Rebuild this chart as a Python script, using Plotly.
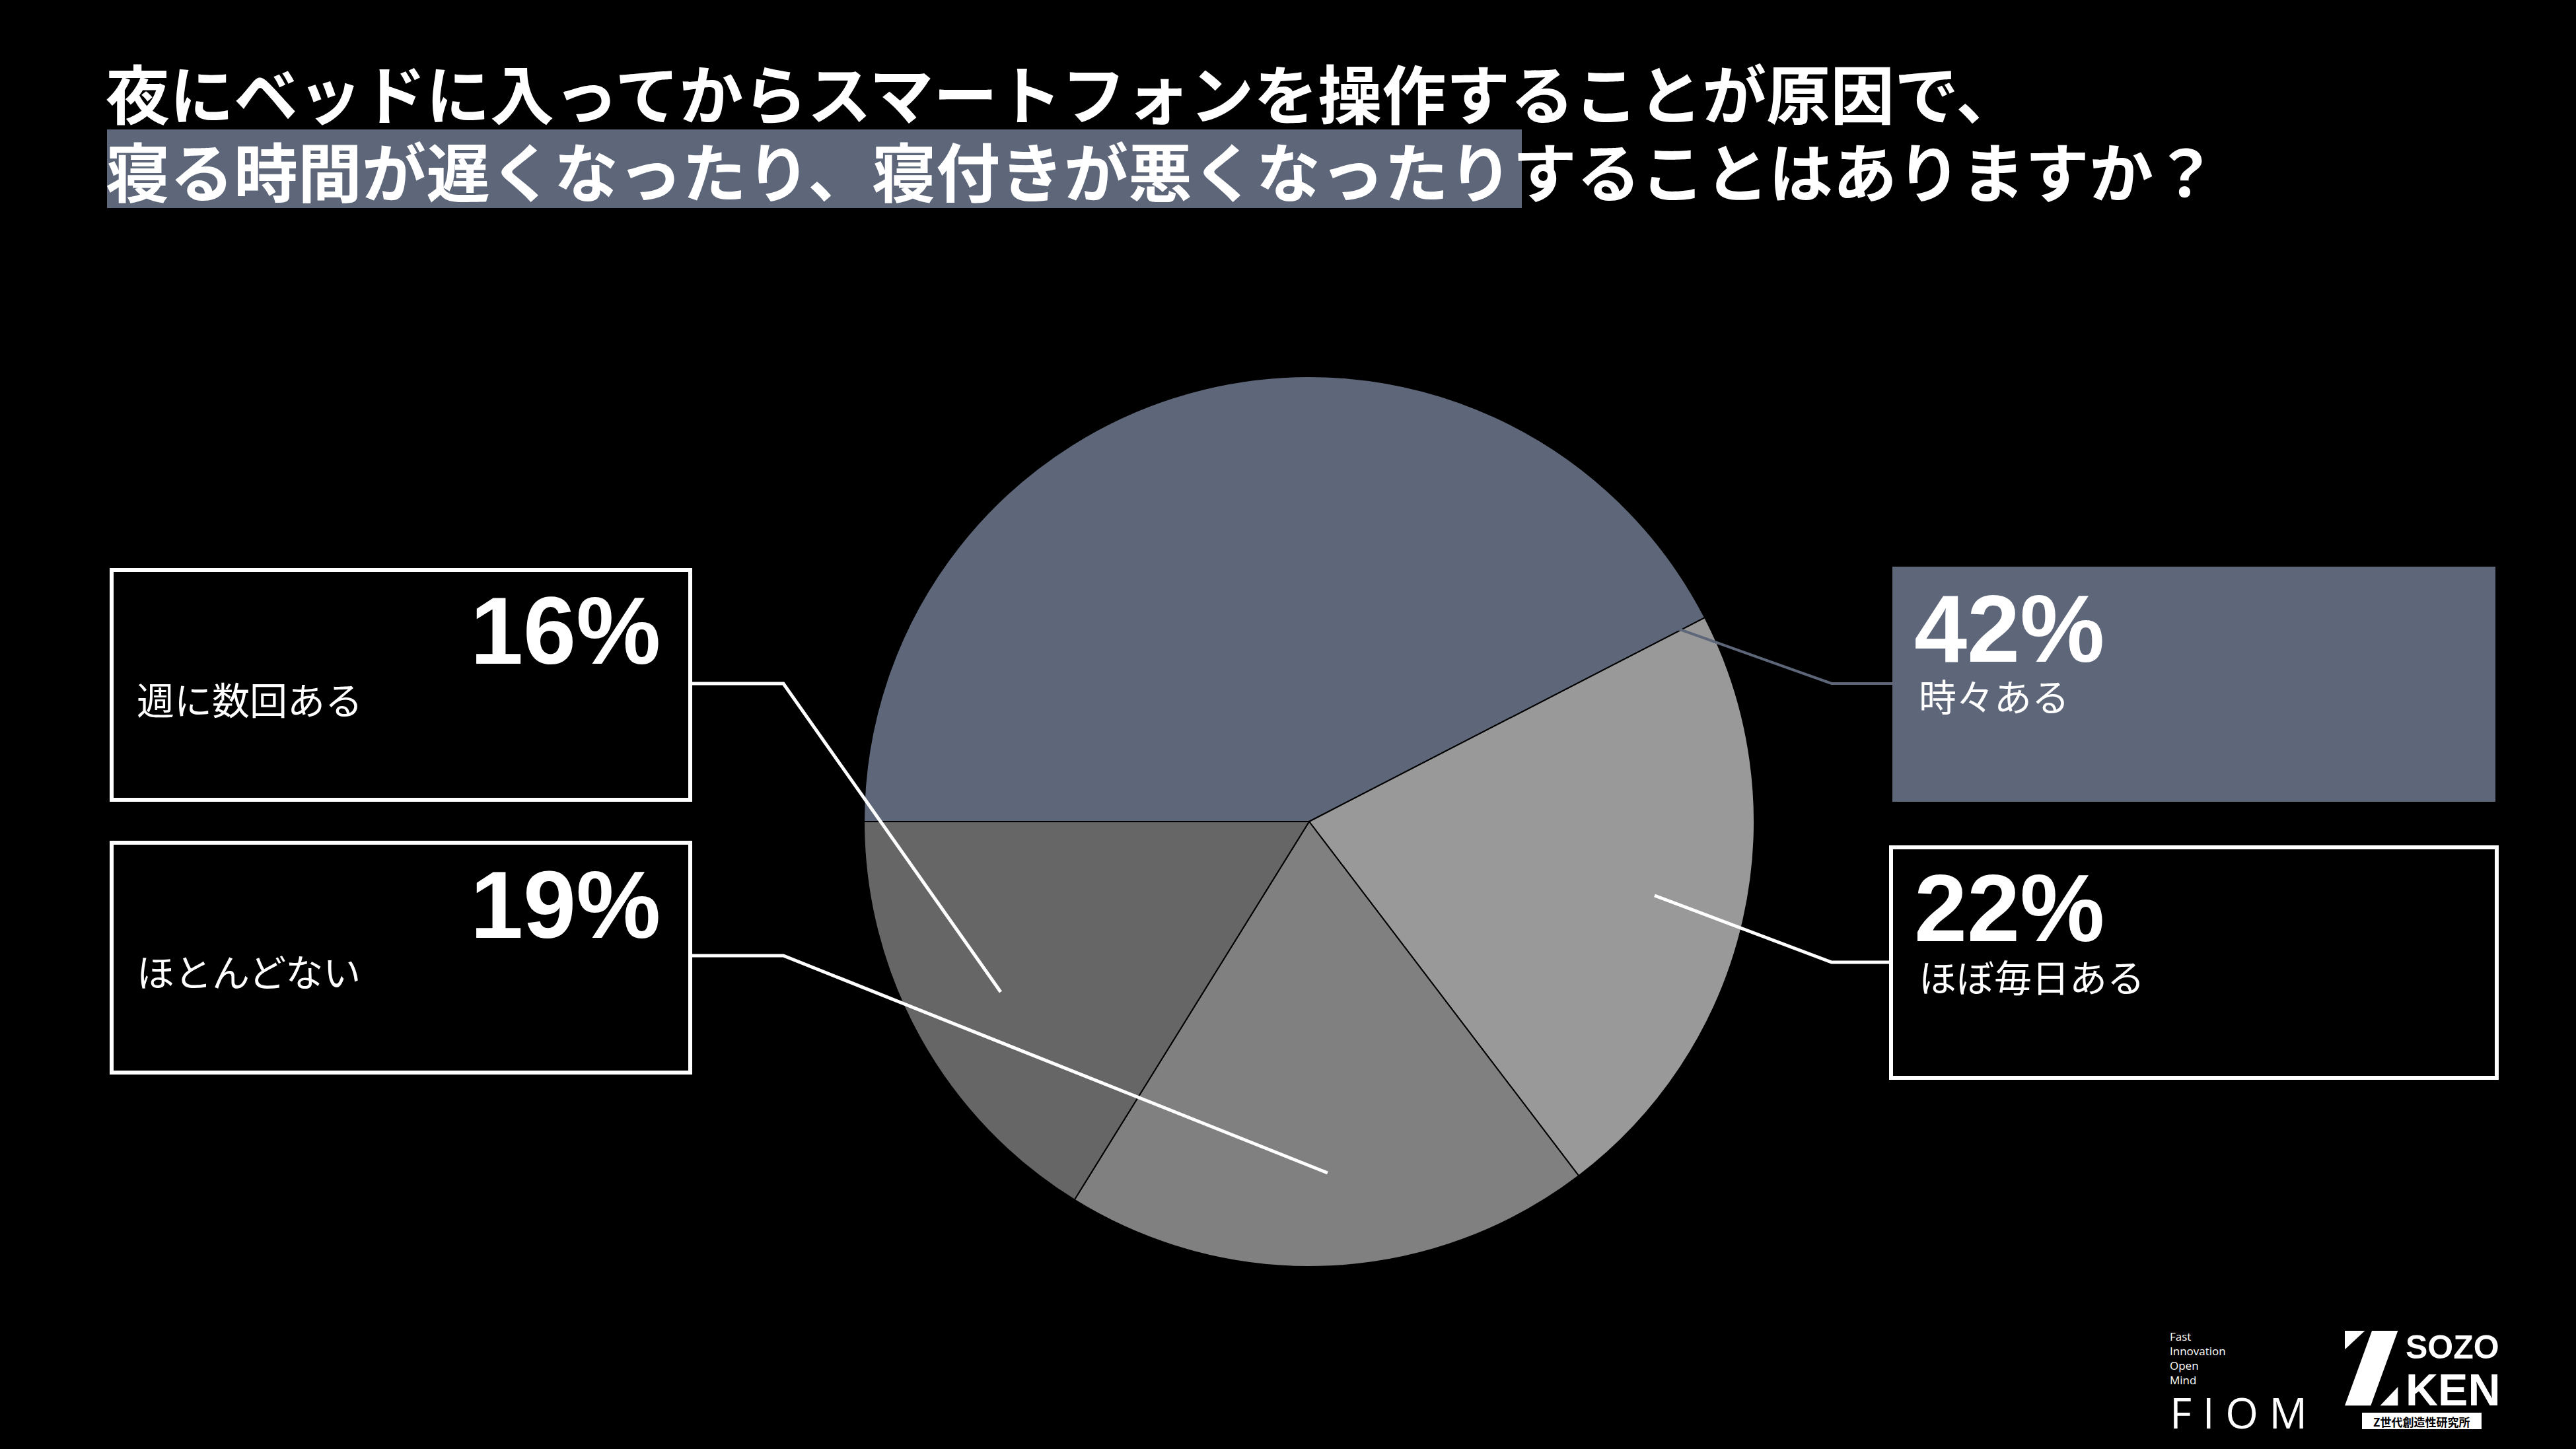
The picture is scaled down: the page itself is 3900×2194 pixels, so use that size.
"""Pie chart: smartphone use in bed and sleep problems"""
import plotly.graph_objects as go

W, H = 3900, 2194

# data
labels = ["時々ある", "ほぼ毎日ある", "ほとんどない", "週に数回ある"]
values = [42, 22, 19, 16]
pct_text = ["42%", "22%", "19%", "16%"]
colors = ["#5e6779", "#999999", "#808080", "#666666"]

TITLE_1 = "夜にベッドに入ってからスマートフォンを操作することが原因で、"
TITLE_2_HL = "寝る時間が遅くなったり、寝付きが悪くなったり"
TITLE_2_REST = "することはありますか？"

JP = "Noto Sans CJK JP"
NUM = "Liberation Sans"
SLATE = "#5e6779"


def px(x, y):
    """pixel position -> paper coords"""
    return x / W, 1 - y / H


def rect(x0, y0, x1, y1, **kw):
    a, b = px(x0, y0)
    c, d = px(x1, y1)
    return dict(type="rect", xref="paper", yref="paper",
                x0=a, y0=d, x1=c, y1=b, **kw)


def poly(points, **kw):
    parts = []
    for i, (x, y) in enumerate(points):
        u, v = px(x, y)
        parts.append(("M" if i == 0 else "L") + f"{u:.5f},{v:.5f}")
    return dict(type="path", xref="paper", yref="paper",
                path=" ".join(parts), **kw)


def text(x, y, s, size, color="white", family=JP, anchor="left", bold=False):
    u, v = px(x, y)
    return dict(x=u, y=v, xref="paper", yref="paper", text=f"<b>{s}</b>" if bold else s,
                showarrow=False, xanchor=anchor, yanchor="middle",
                font=dict(family=family, size=size, color=color))


# pie placement
cx, cy, r = 1982, 1244, 674
dx0, dy1 = px(cx - r, cy - r)
dx1, dy0 = px(cx + r, cy + r)

fig = go.Figure(go.Pie(
    labels=labels, values=values, sort=False,
    direction="clockwise", rotation=270,
    marker=dict(colors=colors, line=dict(color="black", width=2)),
    textinfo="none", hoverinfo="label+percent",
    domain=dict(x=[dx0, dx1], y=[dy0, dy1]),
))

shapes = []
annotations = []

# title
shapes.append(rect(162, 196, 2304, 315, fillcolor=SLATE, line=dict(width=0), layer="below"))
annotations.append(text(158, 137, TITLE_1, 97, bold=True))
annotations.append(text(158, 255, TITLE_2_HL + TITLE_2_REST, 97, bold=True))

# label boxes: (x0, y0, x1, y1, filled, pct x, pct anchor, pct y, label x, label y)
boxes = {
    "時々ある": (2865, 858, 3778, 1214, True, 2896, "left", 953, 2903, 1052),
    "ほぼ毎日ある": (2863, 1283, 3780, 1632, False, 2896, "left", 1375, 2903, 1477),
    "ほとんどない": (169, 1276, 1045, 1624, False, 1002, "right", 1370, 205, 1469),
    "週に数回ある": (169, 863, 1045, 1211, False, 1002, "right", 955, 205, 1057),
}
for lab, pct in zip(labels, pct_text):
    x0, y0, x1, y1, filled, tx, anc, ty, lx, ly = boxes[lab]
    if filled:
        shapes.append(rect(x0, y0, x1, y1, fillcolor=SLATE, line=dict(width=0)))
    else:
        shapes.append(rect(x0, y0, x1, y1, line=dict(color="white", width=6)))
    annotations.append(text(tx, ty, pct, 144, family=NUM, anchor=anc, bold=True))
    annotations.append(text(lx, ly, lab, 57))

# leader lines
leaders = [
    ([(2529, 948), (2773, 1035), (2865, 1035)], SLATE, 4),
    ([(2505, 1356), (2773, 1457), (2863, 1457)], "white", 5),
    ([(1045, 1035), (1186, 1035), (1515, 1502)], "white", 5),
    ([(1045, 1447), (1186, 1447), (2010, 1776)], "white", 5),
]
for pts, col, wd in leaders:
    shapes.append(poly(pts, line=dict(color=col, width=wd)))

# logos, bottom right
annotations.append(dict(
    x=px(3283, 0)[0], y=px(0, 2010)[1], xref="paper", yref="paper",
    text="Fast<br>Innovation<br>Open<br>Mind", align="left",
    showarrow=False, xanchor="left", yanchor="top",
    font=dict(family="Open Sans", size=17, color="white")))
annotations.append(text(3283, 2138, "F I O M", 64, family="Open Sans"))

zx = lambda v: 3250 + v / 2.8
zy = lambda v: 1980 + v / 3
for piece in [
    [(840, 105), (925, 105), (840, 190)],
    [(955, 105), (1065, 105), (950, 445), (840, 445)],
    [(990, 445), (1065, 445), (1065, 360)],
]:
    pts = [(zx(a), zy(b)) for a, b in piece]
    shapes.append(poly(pts + [pts[0]], fillcolor="white", line=dict(width=0)))
annotations.append(text(3640, 2040, "<b>SOZO</b>", 50, family=NUM))
annotations.append(text(3640, 2104, "<b>KEN</b>", 68, family=NUM))
a, b = px(3577, 2140)
c, d = px(3756, 2163)
shapes.append(dict(type="rect", xref="paper", yref="paper", x0=a, y0=d, x1=c, y1=b,
                   fillcolor="white", line=dict(color="white", width=2)))
annotations.append(text(3666, 2152, "<b>Z世代創造性研究所</b>", 17, color="black", anchor="center"))

fig.update_layout(
    width=W, height=H,
    paper_bgcolor="black", plot_bgcolor="black",
    margin=dict(l=0, r=0, t=0, b=0),
    showlegend=False,
    shapes=shapes, annotations=annotations,
)

# page body margin would push the figure 8px off the corner
fig.write_html("out.html", config={"displayModeBar": False},
               post_script="document.body.style.margin = '0';")
